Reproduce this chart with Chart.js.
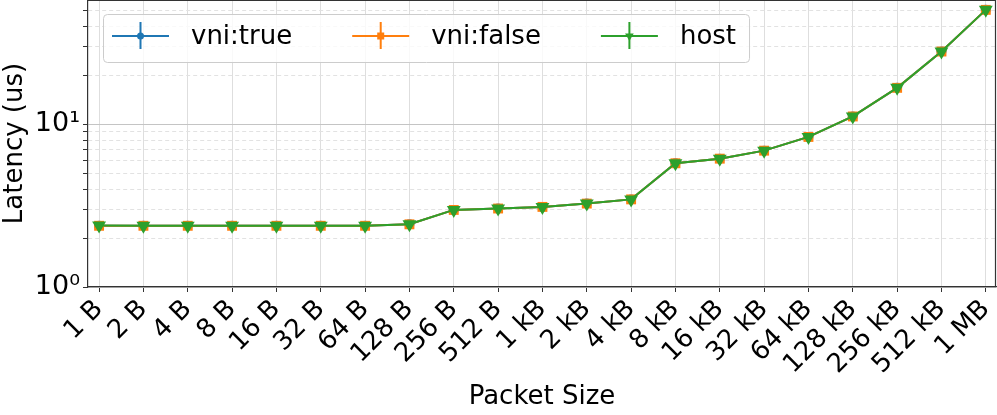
<!DOCTYPE html>
<html lang="en">
<head>
  <meta charset="UTF-8" />
  <title>Latency vs Packet Size</title>
  <script src="https://cdn.jsdelivr.net/npm/chart.js"></script>
  <style>
    body { margin: 0; background: #fff; }
    #wrap { width: 997px; height: 415px; }
  </style>
</head>
<body>
  <div id="wrap"><canvas id="grafico"></canvas></div>

  <script>
    // packet sizes on the x axis
    const sizeLabels = ['1 B', '2 B', '4 B', '8 B', '16 B', '32 B', '64 B', '128 B', '256 B', '512 B',
      '1 kB', '2 kB', '4 kB', '8 kB', '16 kB', '32 kB', '64 kB', '128 kB', '256 kB', '512 kB', '1 MB'];

    // latency in us
    const vniTrue  = [2.38, 2.38, 2.38, 2.38, 2.38, 2.38, 2.38, 2.43, 2.98, 3.04, 3.11, 3.26, 3.46,
      5.77, 6.16, 6.90, 8.38, 11.2, 16.8, 28.1, 50.7];
    const vniFalse = [2.38, 2.38, 2.38, 2.38, 2.38, 2.38, 2.38, 2.43, 2.98, 3.04, 3.11, 3.26, 3.46,
      5.77, 6.16, 6.90, 8.38, 11.2, 16.8, 28.1, 50.7];
    const host     = [2.39, 2.38, 2.38, 2.38, 2.38, 2.38, 2.38, 2.43, 2.98, 3.04, 3.11, 3.26, 3.46,
      5.77, 6.16, 6.90, 8.38, 11.2, 16.8, 28.1, 50.7];

    // log axis ticks
    const yTicks = [1, 2, 3, 4, 5, 6, 7, 8, 9, 10, 20, 30, 40, 50];
    const yMajor = [1, 10];
    const yMajorLabels = { 1: '10⁰', 10: '10¹' };

    Chart.defaults.font.family = "'DejaVu Sans', sans-serif";
    Chart.defaults.color = '#000';

    const toPoints = (arr) => arr.map((v, i) => ({ x: i, y: v }));

    // matplotlib-like legend box with errorbar handles
    const legendBox = {
      id: 'legendBox',
      afterDraw(chart) {
        const ctx = chart.ctx;
        const ca = chart.chartArea;
        const items = chart.data.datasets;
        const font = "26px 'DejaVu Sans', sans-serif";
        ctx.save();
        ctx.font = font;
        const handleW = 57, gapText = 22, gapCol = 60, padL = 9, padR = 13;
        let w = padL + padR;
        items.forEach((d, i) => {
          w += handleW + gapText + ctx.measureText(d.label).width;
          if (i < items.length - 1) w += gapCol;
        });
        const bx = ca.left + 15, by = ca.top + 14, bh = 48;
        ctx.beginPath();
        ctx.roundRect(bx + 0.5, by + 0.5, w, bh, 4);
        ctx.fillStyle = 'rgba(255,255,255,0.8)';
        ctx.fill();
        ctx.strokeStyle = '#cccccc';
        ctx.lineWidth = 1;
        ctx.stroke();

        const cy = by + 22;
        let x = bx + padL;
        items.forEach((d) => {
          const c = d.borderColor;
          const mx = x + handleW / 2;
          ctx.strokeStyle = c;
          ctx.fillStyle = c;
          ctx.lineWidth = 2;
          ctx.beginPath();
          ctx.moveTo(x, cy); ctx.lineTo(x + handleW, cy);
          ctx.moveTo(mx, cy - 14); ctx.lineTo(mx, cy + 13);
          ctx.stroke();
          ctx.beginPath();
          if (d.pointStyle === 'circle') {
            ctx.arc(mx, cy, 3.5, 0, Math.PI * 2);
          } else if (d.pointStyle === 'rect') {
            ctx.rect(mx - 3.5, cy - 3.5, 7, 7);
          } else {
            const r = 5;
            ctx.moveTo(mx, cy + r);
            ctx.lineTo(mx - r * 0.866, cy - r / 2);
            ctx.lineTo(mx + r * 0.866, cy - r / 2);
            ctx.closePath();
          }
          ctx.fill();
          x += handleW + gapText;
          ctx.fillStyle = '#000';
          ctx.textBaseline = 'middle';
          ctx.textAlign = 'left';
          ctx.fillText(d.label, x, cy + 1);
          x += ctx.measureText(d.label).width + gapCol;
        });

        // top and right spines
        ctx.strokeStyle = '#333';
        ctx.lineWidth = 1.2;
        ctx.beginPath();
        ctx.moveTo(ca.left, ca.top + 0.5); ctx.lineTo(ca.right - 0.5, ca.top + 0.5);
        ctx.lineTo(ca.right - 0.5, ca.bottom);
        ctx.stroke();
        ctx.restore();
      }
    };

    new Chart(document.getElementById('grafico'), {
      type: 'line',
      data: {
        datasets: [
          {
            label: 'vni:true',
            data: toPoints(vniTrue),
            borderColor: '#1f77b4',
            backgroundColor: '#1f77b4',
            pointStyle: 'circle',
            pointRadius: 5,
            order: 2
          },
          {
            label: 'vni:false',
            data: toPoints(vniFalse),
            borderColor: '#ff7f0e',
            backgroundColor: '#ff7f0e',
            pointStyle: 'rect',
            pointRadius: 7,
            order: 1
          },
          {
            label: 'host',
            data: toPoints(host),
            borderColor: '#2ca02c',
            backgroundColor: '#2ca02c',
            pointStyle: 'triangle',
            pointRotation: 180,
            pointRadius: 8,
            order: 0
          }
        ]
      },
      options: {
        responsive: true,
        maintainAspectRatio: false,
        animation: false,
        layout: { autoPadding: false, padding: { top: 0, right: 1, left: 0, bottom: 0 } },
        elements: {
          line: { borderWidth: 2, tension: 0, fill: false },
          point: { borderWidth: 0, hoverRadius: 6 }
        },
        plugins: {
          legend: { display: false },
          tooltip: { enabled: false }
        },
        scales: {
          x: {
            type: 'linear',
            min: -0.25,
            max: 20.23,
            afterBuildTicks: (scale) => {
              scale.ticks = sizeLabels.map((_, i) => ({ value: i }));
            },
            afterFit: (scale) => {
              scale.height = 128;
              scale.paddingLeft = 0;
              scale.paddingRight = 0;
            },
            ticks: {
              autoSkip: false,
              minRotation: 45,
              maxRotation: 45,
              padding: 2,
              font: { size: 26 },
              callback: (v) => sizeLabels[v]
            },
            grid: { color: '#dedede', lineWidth: 1, tickColor: '#333', tickLength: 5 },
            border: { color: '#333', width: 1.2 },
            title: {
              display: true,
              text: 'Packet Size',
              font: { size: 26 },
              padding: { top: 0, bottom: 2 }
            }
          },
          y: {
            type: 'logarithmic',
            min: 1,
            max: 58.3,
            afterBuildTicks: (scale) => {
              scale.ticks = yTicks.map(v => ({ value: v, major: yMajor.includes(v) }));
            },
            afterFit: (scale) => {
              scale.width = 88;
              scale.paddingTop = 0;
              scale.paddingBottom = 0;
            },
            ticks: {
              autoSkip: false,
              padding: 3,
              font: { size: 27 },
              callback: (v) => yMajorLabels[v] || ''
            },
            grid: {
              color: (c) => (c.tick && c.tick.major) ? '#c4c4c4' : '#e2e2e2',
              tickColor: '#333',
              tickLength: 5
            },
            border: {
              color: '#333',
              width: 1.2,
              dash: (c) => (c.tick && !c.tick.major) ? [4, 3] : []
            },
            title: {
              display: true,
              text: 'Latency (us)',
              font: { size: 26 },
              padding: { top: 0, bottom: 0 }
            }
          }
        }
      },
      plugins: [legendBox]
    });
  </script>
</body>
</html>
